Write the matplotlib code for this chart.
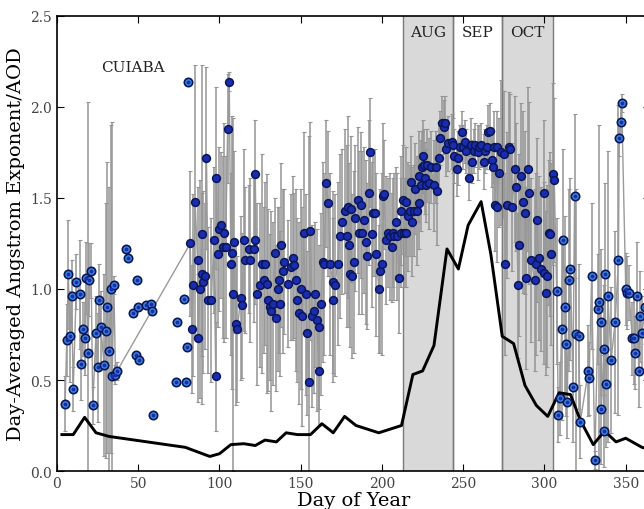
import numpy as np
import matplotlib
matplotlib.use("Agg")
import matplotlib.pyplot as plt

# ---- Data ----
# connected Angstrom-exponent series: (day, value, error)
main_pts = [
    (5, 0.37, 0.15), (6, 0.72, 0.2), (7, 1.08, 0.3), (8, 0.74, 0.25), (9, 0.96, 0.2),
    (10, 0.45, 0.12), (12, 1.04, 0.15), (14, 0.97, 0.3), (15, 0.59, 0.2), (16, 0.78, 0.15),
    (17, 0.73, 0.2), (18, 1.06, 0.2), (19, 0.65, 1.38), (20, 1.05, 0.2), (21, 1.10, 0.15),
    (22, 0.36, 0.1), (24, 0.76, 0.2), (25, 0.57, 0.3), (26, 0.94, 0.2), (27, 0.79, 0.2),
    (29, 0.58, 0.5), (30, 0.77, 0.7), (31, 0.90, 0.8), (32, 0.66, 0.9), (33, 1.00, 0.9),
    (34, 0.52, 1.4), (35, 1.02, 0.05), (36, 0.53, 0.05), (37, 0.55, 0.05),
    (82, 1.25, 0.4), (83, 0.78, 0.35), (84, 1.02, 0.5), (85, 1.48, 0.75), (86.5, 1.16, 0.4),
    (87, 0.73, 0.35), (88, 1.00, 0.6), (89, 1.30, 0.93), (89.5, 1.08, 0.45), (90, 1.04, 0.5),
    (91, 1.07, 0.4), (92, 1.72, 0.5), (93, 0.94, 0.4), (95, 0.94, 0.45), (96.5, 1.27, 0.4),
    (97.7, 0.52, 0.3), (98, 1.61, 0.5), (99, 1.19, 0.4), (100, 1.33, 0.45), (101, 1.35, 0.4),
    (102, 1.23, 0.5), (103, 1.31, 0.6), (103.8, 1.23, 0.5), (105, 1.88, 0.3), (106, 2.14, 0.05),
    (107, 1.14, 0.5), (108, 1.20, 0.75), (108.5, 0.97, 0.97), (109, 1.26, 0.5), (110, 0.81, 0.45),
    (111, 0.78, 0.4), (113, 0.95, 0.45), (114, 0.91, 0.4), (115, 1.27, 0.5), (116, 1.16, 0.4),
    (118, 1.22, 0.35), (119, 1.16, 0.45), (121, 1.22, 0.4), (121.6, 1.27, 0.35), (122, 1.63, 0.3),
    (123, 0.97, 0.5), (125, 1.02, 0.45), (126.4, 1.14, 0.6), (127.4, 1.05, 0.4), (128, 1.14, 0.45),
    (129, 1.03, 0.6), (130, 0.94, 0.5), (131, 0.90, 0.4), (132, 0.88, 0.55), (133, 0.92, 0.45),
    (134, 1.20, 0.3), (135, 0.84, 0.4), (136, 1.00, 0.45), (136.5, 1.05, 0.4), (137, 0.92, 0.4),
    (138, 1.24, 0.45), (139.3, 1.10, 0.45), (140, 1.15, 0.4), (142, 1.03, 0.35), (144, 1.12, 0.4),
    (145, 1.17, 0.45), (146, 1.13, 0.4), (147, 1.05, 0.5), (148, 0.94, 0.45), (149, 0.87, 0.5),
    (150, 1.00, 0.55), (151, 0.85, 0.6), (151.7, 1.31, 0.55), (153, 0.97, 0.55), (154, 0.76, 0.45),
    (155, 0.49, 1.35), (156, 1.32, 0.6), (157, 0.85, 0.5), (158, 0.88, 0.45), (159, 0.97, 0.4),
    (160, 0.83, 0.5), (161, 0.55, 0.3), (161.5, 0.79, 0.45), (162.5, 0.92, 0.5), (163.5, 1.15, 0.55),
    (164.5, 1.14, 0.5), (165.6, 1.58, 0.35), (167, 1.47, 0.4), (168, 1.14, 0.5), (169.6, 1.04, 0.5),
    (170, 0.94, 0.45), (171, 1.02, 0.5), (172.7, 1.14, 0.45), (174, 1.29, 0.45), (175.5, 1.37, 0.4),
    (177, 1.43, 0.45), (178.5, 1.29, 0.5), (179, 1.45, 0.5), (180, 1.24, 0.45), (180.5, 1.08, 0.4),
    (181, 1.44, 0.4), (181.5, 1.07, 0.45), (183, 1.15, 0.5), (183.5, 1.39, 0.4), (185, 1.49, 0.4),
    (186, 1.31, 0.45), (187, 1.46, 0.4), (188, 1.31, 0.45), (189, 1.38, 0.4), (190, 1.26, 0.45),
    (190.5, 1.18, 0.4), (192, 1.53, 0.4), (192.5, 1.75, 0.3), (194, 1.30, 0.4), (194.5, 1.42, 0.35),
    (196, 1.42, 0.35), (196.5, 1.19, 0.45), (198, 1.00, 0.35), (199, 1.10, 0.45), (200, 1.14, 0.5),
    (200.4, 1.51, 0.4), (201.4, 1.52, 0.3), (202.4, 1.27, 0.35), (204, 1.31, 0.3), (205, 1.29, 0.35),
    (206, 1.23, 0.3), (207, 1.31, 0.3), (207.5, 1.29, 0.35), (208.5, 1.37, 0.3), (209.5, 1.29, 0.35),
    (210.5, 1.06, 0.3), (211.5, 1.31, 0.3), (212, 1.43, 0.3), (213, 1.49, 0.3), (213.5, 1.31, 0.3),
    (214.5, 1.31, 0.3), (215, 1.48, 0.3), (216, 1.40, 0.3), (217, 1.43, 0.25), (218, 1.59, 0.25),
    (218.5, 1.37, 0.3), (219.5, 1.43, 0.25), (220.5, 1.55, 0.25), (221.5, 1.43, 0.3), (222.5, 1.47, 0.25),
    (223, 1.62, 0.25), (224, 1.57, 0.25), (224.5, 1.67, 0.2), (225, 1.73, 0.2), (226, 1.68, 0.2),
    (226.4, 1.61, 0.2), (227.2, 1.57, 0.2), (228, 1.68, 0.2), (229, 1.58, 0.25), (230, 1.67, 0.2),
    (232, 1.57, 0.25), (233, 1.67, 0.2), (234, 1.54, 0.3), (235, 1.72, 0.2), (236, 1.83, 0.15),
    (236.7, 1.91, 0.15), (238, 1.89, 0.15), (238.6, 1.91, 0.15), (239.5, 1.77, 0.15), (240.6, 1.80, 0.15),
    (243, 1.81, 0.15), (244, 1.79, 0.15), (244.6, 1.73, 0.15), (246, 1.66, 0.15), (246.7, 1.72, 0.15),
    (248, 1.78, 0.12), (249, 1.86, 0.12), (250, 1.78, 0.12), (251, 1.81, 0.12), (252, 1.76, 0.12),
    (253.5, 1.61, 0.12), (254.5, 1.79, 0.15), (255.5, 1.70, 0.12), (256.5, 1.76, 0.12), (257.5, 1.79, 0.12),
    (259, 1.75, 0.15), (260, 1.78, 0.12), (261, 1.79, 0.12), (262.5, 1.70, 0.15), (263.5, 1.76, 0.12),
    (264.5, 1.78, 0.12), (265.5, 1.86, 0.15), (266.5, 1.87, 0.15), (268, 1.71, 0.15), (268.5, 1.67, 0.2),
    (269, 1.78, 0.2), (269.5, 1.46, 0.25), (270.7, 1.78, 0.2), (271, 1.45, 0.3), (272, 1.64, 0.3),
    (273, 1.75, 0.4), (274.8, 1.74, 0.35), (276, 1.14, 0.5), (277, 1.46, 0.4), (278, 1.78, 0.3),
    (279, 1.77, 0.3), (280, 1.45, 0.35), (282, 1.66, 0.4), (282.5, 1.56, 0.35), (283.7, 1.02, 0.4),
    (284.5, 1.24, 0.5), (285.7, 1.62, 0.4), (287, 1.48, 0.5), (287.8, 1.42, 0.45), (288.5, 1.06, 0.5),
    (289.8, 1.66, 0.45), (290.6, 1.53, 0.5), (291.8, 1.16, 0.45), (294, 1.05, 0.5), (295, 1.14, 0.5),
    (295.6, 1.38, 0.45), (296.4, 1.17, 0.45), (298, 1.11, 0.45), (299.5, 1.09, 0.5), (300, 1.53, 0.4),
    (301, 0.98, 0.45), (301.5, 1.07, 0.5), (302.5, 1.31, 0.4), (303.5, 1.30, 0.45), (304, 1.19, 0.5),
    (305, 1.63, 0.5), (306, 1.60, 0.45), (307.5, 0.99, 0.4), (308.5, 0.31, 0.15), (309.5, 0.40, 0.2),
    (310.5, 0.78, 0.5), (311.4, 1.27, 0.5), (312.6, 0.90, 0.5), (313.5, 0.70, 0.4), (314, 0.38, 0.2),
    (315.3, 1.05, 0.5), (316, 1.11, 0.5), (317.5, 0.46, 0.3), (318.5, 1.51, 0.45), (319.5, 0.75, 0.8),
    (321, 0.74, 0.4), (322, 0.27, 0.2), (327, 0.55, 0.25), (327.5, 0.51, 0.2), (329, 1.07, 0.4),
    (331, 0.06, 0.05), (333, 0.89, 0.3), (333.5, 0.93, 0.97), (334.5, 0.82, 0.4), (335, 0.34, 0.3),
    (336.5, 0.67, 0.35), (336.6, 0.22, 0.2), (337, 1.08, 0.5), (338, 0.48, 0.35), (339, 0.96, 0.8),
    (341, 0.61, 0.4), (343.5, 0.82, 0.5), (345.5, 1.16, 0.85), (346, 1.83, 0.1), (347, 1.92, 0.1),
    (347.5, 2.02, 0.05), (350, 1.00, 0.2), (351, 0.98, 0.2), (352, 0.98, 0.15), (354, 0.73, 0.2),
    (355, 0.73, 0.25), (355.5, 0.65, 0.2), (357, 0.96, 0.3), (358, 0.55, 0.2), (358.5, 0.85, 0.25),
    (360, 0.76, 0.2), (362, 0.90, 0.2), (364, 0.55, 0.2),
]
main_days = [p[0] for p in main_pts]
main_vals = [p[1] for p in main_pts]
main_errs = [p[2] for p in main_pts]

# unconnected points (no error bars)
extra_days = [42.5, 43.5, 46.6, 48.6, 49.5, 50.0, 50.4, 54.8, 57.6, 58.3, 59.3,
              73.3, 74.0, 78.2, 79.2, 80.2, 80.9]
extra_vals = [1.22, 1.17, 0.87, 0.64, 1.05, 0.90, 0.61, 0.91, 0.915, 0.88, 0.31,
              0.49, 0.82, 0.945, 0.49, 0.68, 2.14]

# AOD (black line)
aod_days = [3, 10, 17, 24, 32, 79, 94, 100, 107, 115, 122, 128, 135, 141, 148, 156, 163,
            170, 177, 184, 198, 212, 219, 225, 232, 240, 247, 253, 261, 267, 274, 281,
            288, 295, 302, 309, 316, 322, 330, 337, 344, 350, 360, 364]
aod_vals = [0.20, 0.20, 0.295, 0.21, 0.19, 0.13, 0.08, 0.095, 0.145, 0.15, 0.14, 0.17, 0.16,
            0.21, 0.20, 0.20, 0.26, 0.21, 0.30, 0.25, 0.21, 0.25, 0.53, 0.55, 0.69, 1.22,
            1.11, 1.35, 1.48, 1.19, 0.74, 0.70, 0.47, 0.36, 0.30, 0.43, 0.42, 0.28, 0.145,
            0.22, 0.16, 0.18, 0.13, 0.12]

months = ["AUG", "SEP", "OCT"]
month_spans = [(213, 244), (244, 274), (274, 305)]
shaded = [True, False, True]
station = "CUIABA"

# ---- Plot ----
plt.rcParams['font.family'] = ['DejaVu Serif']
fig = plt.figure(figsize=(6.44, 5.10), dpi=100)
ax = fig.add_axes([0.0885, 0.0745, 0.921, 0.8922])

for (a, b), sh in zip(month_spans, shaded):
    if sh:
        ax.axvspan(a, b, facecolor='#d9d9d9', edgecolor='none', zorder=0)
    for xv in (a, b):
        ax.axvline(xv, color='#7a7a7a', lw=1.0, zorder=0.5)

ax.errorbar(main_days, main_vals, yerr=main_errs, fmt='none', ecolor='#959595',
            elinewidth=1.1, capsize=1.5, capthick=0.8, zorder=1)
ax.plot(main_days[:29], main_vals[:29], color='#9a9a9a', lw=1.0, zorder=1.5)
ax.plot(main_days[28:], main_vals[28:], color='#9a9a9a', lw=1.0, zorder=1.5)

ax.plot(aod_days, aod_vals, color='black', lw=2.1, zorder=3)

md = np.array(main_days)
mv = np.array(main_vals)
ring = (md < 82) | (md > 306)
# dark filled markers
ax.plot(md[~ring], mv[~ring], 'o', ms=5.6, mfc='#1a2cb0', mec='#0b1658', mew=1.1,
        linestyle='none', zorder=4)
# ring-style markers
for dd, vv in [(md[ring], mv[ring]), (np.array(extra_days), np.array(extra_vals))]:
    ax.plot(dd, vv, 'o', ms=6.0, mfc='#3f88dc', mec='#0b1658', mew=1.2,
            linestyle='none', zorder=4)
    ax.plot(dd, vv, 'o', ms=2.8, mfc='#1a2cb0', mec='none', linestyle='none', zorder=4.5)

for name, (a, b) in zip(months, month_spans):
    ax.text((a + b) / 2, 2.41, name, ha='center', va='center', fontsize=11, color='#222222')
ax.text(47, 2.22, station, ha='center', va='center', fontsize=11, color='#222222')

ax.set_xlim(0, 365)
ax.set_ylim(0, 2.5)
ax.set_xticks([0, 50, 100, 150, 200, 250, 300, 350])
ax.set_yticks([0.0, 0.5, 1.0, 1.5, 2.0, 2.5])
ax.set_yticklabels(['0.0', '0.5', '1.0', '1.5', '2.0', '2.5'])
ax.tick_params(direction='in', top=True, right=True, labelsize=10, labelcolor='#444444',
               length=5, width=0.8)
for s in ax.spines.values():
    s.set_linewidth(1.2)
ax.set_xlabel('Day of Year', fontsize=14, labelpad=1)
ax.set_ylabel('Day-Averaged Angstrom Exponent/AOD', fontsize=14, labelpad=4)

fig.savefig('out.png', dpi=100)
